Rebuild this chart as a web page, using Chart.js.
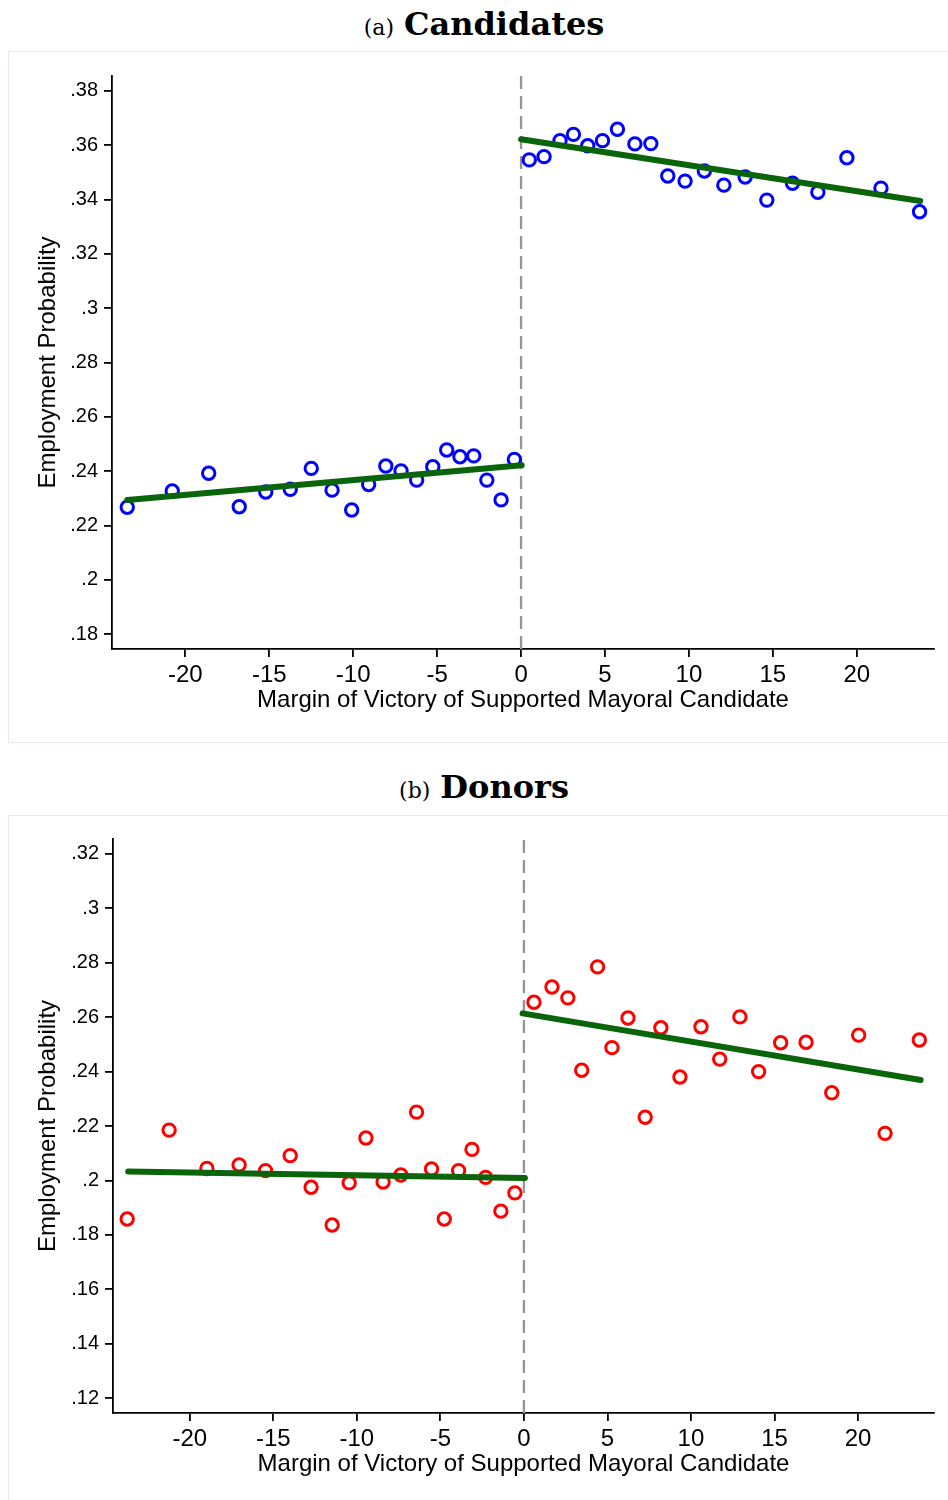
<!DOCTYPE html>
<html><head><meta charset="utf-8">
<script src="https://cdn.jsdelivr.net/npm/chart.js@4.4.1/dist/chart.umd.min.js"></script>
<style>
html,body{margin:0;padding:0;background:#fff;}
body{width:948px;height:1500px;overflow:hidden;position:relative;}
.ttl{position:absolute;left:0;width:968px;height:50px;line-height:50px;text-align:center;white-space:nowrap;color:#000;}
.ttl .lab{font-family:"DejaVu Serif";font-size:22px;font-weight:normal;margin-right:10px;}
.ttl .main{font-family:"DejaVu Serif";font-size:32px;font-weight:bold;}
.box{position:absolute;left:8px;width:950px;border:1px solid #e3eaed;box-sizing:border-box;}
canvas{position:absolute;left:8px;}
</style></head>
<body>
<div class="ttl" style="top:-1px"><span class="lab">(a)</span><span class="main">Candidates</span></div>
<div class="box" style="top:51px;height:692px"></div>
<canvas id="ca" width="940" height="691" style="top:51px"></canvas>
<div class="ttl" style="top:762px"><span class="lab">(b)</span><span class="main">Donors</span></div>
<div class="box" style="top:815px;height:700px"></div>
<canvas id="cb" width="940" height="691" style="top:815px"></canvas>
<script>
// ---------- data ----------
const xTitle = 'Margin of Victory of Supported Mayoral Candidate';
const yTitle = 'Employment Probability';
const xTickValues = [-20, -15, -10, -5, 0, 5, 10, 15, 20];
const xTickLabels = ['-20', '-15', '-10', '-5', '0', '5', '10', '15', '20'];
const candYTickValues = [0.18, 0.2, 0.22, 0.24, 0.26, 0.28, 0.3, 0.32, 0.34, 0.36, 0.38];
const candYTickLabels = ['.18', '.2', '.22', '.24', '.26', '.28', '.3', '.32', '.34', '.36', '.38'];
const donorYTickValues = [0.12, 0.14, 0.16, 0.18, 0.2, 0.22, 0.24, 0.26, 0.28, 0.3, 0.32];
const donorYTickLabels = ['.12', '.14', '.16', '.18', '.2', '.22', '.24', '.26', '.28', '.3', '.32'];

// Panel (a) Candidates
const candLeftX = [-23.46, -20.78, -18.61, -16.79, -15.21, -13.75, -12.50, -11.26, -10.09, -9.08, -8.06, -7.15, -6.22, -5.26, -4.43, -3.64, -2.82, -2.04, -1.19, -0.40];
const candLeftY = [0.2267, 0.2327, 0.2392, 0.2269, 0.2323, 0.2333, 0.2410, 0.2330, 0.2257, 0.2351, 0.2419, 0.2401, 0.2367, 0.2416, 0.2478, 0.2453, 0.2456, 0.2367, 0.2294, 0.2443];
const candRightX = [0.49, 1.37, 2.32, 3.12, 3.97, 4.85, 5.74, 6.78, 7.73, 8.74, 9.77, 10.92, 12.08, 13.35, 14.64, 16.17, 17.68, 19.41, 21.44, 23.74];
const candRightY = [0.3546, 0.3558, 0.3617, 0.3640, 0.3598, 0.3617, 0.3659, 0.3605, 0.3606, 0.3487, 0.3468, 0.3505, 0.3453, 0.3483, 0.3398, 0.3460, 0.3427, 0.3554, 0.3442, 0.3355];
const candFitLeftX = [-23.46, 0.04];
const candFitLeftY = [0.2294, 0.2422];
const candFitRightX = [0.0, 23.78];
const candFitRightY = [0.3622, 0.3395];

// Panel (b) Donors
const donorLeftX = [-23.75, -21.24, -18.98, -17.05, -15.47, -13.99, -12.74, -11.48, -10.46, -9.46, -8.43, -7.37, -6.43, -5.53, -4.77, -3.91, -3.11, -2.29, -1.38, -0.54];
const donorLeftY = [0.1858, 0.2185, 0.2044, 0.2057, 0.2036, 0.2091, 0.1975, 0.1836, 0.1991, 0.2156, 0.1994, 0.2020, 0.2251, 0.2042, 0.1858, 0.2036, 0.2114, 0.2011, 0.1887, 0.1954];
const donorRightX = [0.60, 1.68, 2.63, 3.46, 4.41, 5.27, 6.23, 7.26, 8.20, 9.34, 10.60, 11.72, 12.93, 14.05, 15.37, 16.89, 18.43, 20.04, 21.62, 23.67];
const donorRightY = [0.2655, 0.2711, 0.2671, 0.2405, 0.2785, 0.2488, 0.2597, 0.2232, 0.2561, 0.2380, 0.2565, 0.2446, 0.2601, 0.2400, 0.2506, 0.2508, 0.2322, 0.2534, 0.2173, 0.2516];
const donorFitLeftX = [-23.69, 0.06];
const donorFitLeftY = [0.2033, 0.2009];
const donorFitRightX = [-0.08, 23.75];
const donorFitRightY = [0.2614, 0.2369];

// axis ranges
const candXRange = [-24.37, 24.6];
const candYRange = [0.1745, 0.3855];
const donorXRange = [-24.6, 24.55];
const donorYRange = [0.1145, 0.3255];

// ---------- chart building ----------
function pts(xs, ys) { return xs.map((x, i) => ({ x: x, y: ys[i] })); }

function build(id, o) {
  const fitColor = '#0a640a';
  new Chart(document.getElementById(id), {
    type: 'scatter',
    data: {
      datasets: [
        { data: pts([0, 0], o.yRange), showLine: true, borderColor: '#959595', borderWidth: 2.3, borderDash: [13, 7], pointRadius: 0, order: 3 },
        { data: pts(o.lx, o.ly), pointStyle: 'circle', pointRadius: 6.2, borderWidth: 3, borderColor: o.color, backgroundColor: 'rgba(0,0,0,0)', order: 2 },
        { data: pts(o.rx, o.ry), pointStyle: 'circle', pointRadius: 6.2, borderWidth: 3, borderColor: o.color, backgroundColor: 'rgba(0,0,0,0)', order: 2 },
        { data: pts(o.flx, o.fly), showLine: true, borderColor: fitColor, borderWidth: 6, borderCapStyle: 'round', pointRadius: 0, order: 1 },
        { data: pts(o.frx, o.fry), showLine: true, borderColor: fitColor, borderWidth: 6, borderCapStyle: 'round', pointRadius: 0, order: 1 }
      ]
    },
    options: {
      responsive: false,
      animation: false,
      events: [],
      layout: { padding: { left: 0, right: 14, top: o.top, bottom: 0 } },
      plugins: { legend: { display: false }, tooltip: { enabled: false } },
      scales: {
        x: {
          type: 'linear', min: o.xRange[0], max: o.xRange[1],
          afterBuildTicks: s => { s.ticks = xTickValues.map(v => ({ value: v })); },
          afterFit: s => { s.height = 93; },
          ticks: { callback: (v, i) => xTickLabels[i], font: { family: 'Liberation Sans', size: 24 }, color: '#000', padding: 4, maxRotation: 0, autoSkip: false },
          grid: { drawOnChartArea: false, drawTicks: true, tickLength: 8, color: '#000', lineWidth: 1.8 },
          border: { display: true, color: '#000', width: 1.8 },
          title: { display: true, text: xTitle, font: { family: 'Liberation Sans', size: 24 }, color: '#000', padding: { top: 0, bottom: 27 } }
        },
        y: {
          type: 'linear', min: o.yRange[0], max: o.yRange[1],
          afterBuildTicks: s => { s.ticks = o.yTicks.map(v => ({ value: v })); },
          afterFit: s => { s.width = o.yw; },
          ticks: { callback: (v, i) => o.yLabels[i], font: { family: 'Liberation Sans', size: 20 }, color: '#000', padding: 6, autoSkip: false },
          grid: { drawOnChartArea: false, drawTicks: true, tickLength: 8, color: '#000', lineWidth: 1.8 },
          border: { display: true, color: '#000', width: 1.8 },
          title: { display: true, text: yTitle, font: { family: 'Liberation Sans', size: 24 }, color: '#000', padding: { top: 26, bottom: 0 } }
        }
      }
    }
  });
}

build('ca', {
  color: '#0000ff', top: 25, yw: 104,
  xRange: candXRange, yRange: candYRange, yTicks: candYTickValues, yLabels: candYTickLabels,
  lx: candLeftX, ly: candLeftY, rx: candRightX, ry: candRightY,
  flx: candFitLeftX, fly: candFitLeftY, frx: candFitRightX, fry: candFitRightY
});
build('cb', {
  color: '#ff0000', top: 24, yw: 105,
  xRange: donorXRange, yRange: donorYRange, yTicks: donorYTickValues, yLabels: donorYTickLabels,
  lx: donorLeftX, ly: donorLeftY, rx: donorRightX, ry: donorRightY,
  flx: donorFitLeftX, fly: donorFitLeftY, frx: donorFitRightX, fry: donorFitRightY
});
</script>
</body></html>
